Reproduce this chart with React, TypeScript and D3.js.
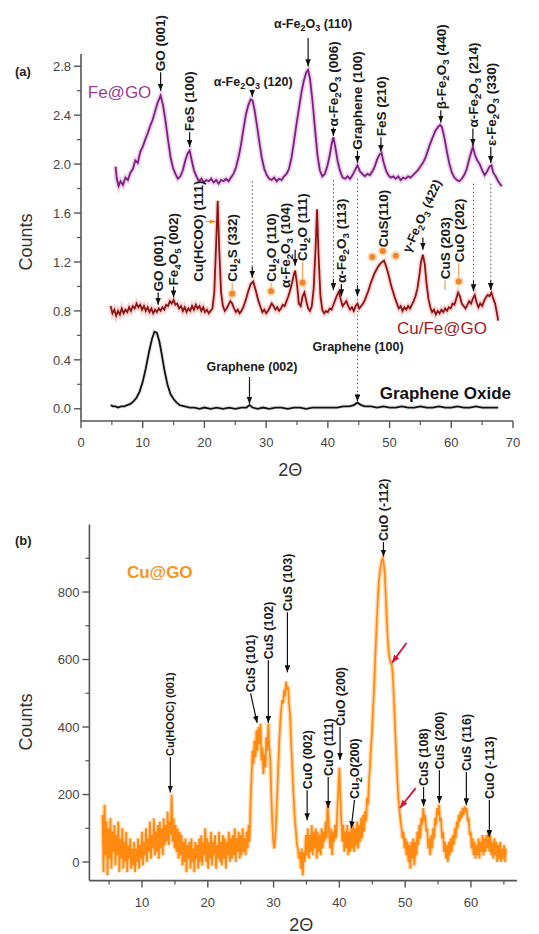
import React from 'react';
import * as d3 from 'd3';

// (a) Fe@GO, Cu/Fe@GO and graphene oxide patterns, [2theta, counts]
const feGO: [number, number][] = [
    [5.6, 1.98], [5.8, 1.88], [6.1, 1.82], [6.4, 1.86], [6.8, 1.83], [7.2, 1.89], [7.6, 1.87], [8.0, 1.93],
    [8.4, 1.96], [8.8, 2.03], [9.2, 2.01], [9.6, 2.10], [10.0, 2.14], [10.4, 2.20], [10.8, 2.25], [11.2, 2.31],
    [11.6, 2.36], [12.0, 2.43], [12.4, 2.50], [12.9, 2.56], [13.3, 2.48], [13.7, 2.35], [14.1, 2.20], [14.5, 2.06],
    [14.9, 1.97], [15.3, 1.92], [15.7, 1.88], [16.1, 1.90], [16.5, 1.95], [16.9, 2.03], [17.3, 2.09], [17.6, 2.11],
    [17.9, 2.04], [18.3, 1.95], [18.7, 1.90], [19.1, 1.86], [19.5, 1.88], [19.9, 1.85], [20.3, 1.87], [20.7, 1.86],
    [21.1, 1.88], [21.5, 1.85], [21.9, 1.87], [22.3, 1.84], [22.7, 1.87], [23.1, 1.86], [23.5, 1.88], [23.9, 1.86],
    [24.3, 1.89], [24.7, 1.92], [25.1, 1.97], [25.5, 2.05], [25.9, 2.15], [26.3, 2.28], [26.7, 2.40], [27.1, 2.48],
    [27.5, 2.53], [27.8, 2.52], [28.1, 2.45], [28.5, 2.32], [28.9, 2.18], [29.3, 2.05], [29.7, 1.96], [30.1, 1.91],
    [30.5, 1.88], [30.9, 1.87], [31.3, 1.89], [31.7, 1.86], [32.1, 1.88], [32.5, 1.87], [32.9, 1.90], [33.3, 1.92],
    [33.7, 1.96], [34.1, 2.05], [34.5, 2.18], [34.9, 2.32], [35.3, 2.45], [35.7, 2.58], [36.1, 2.68], [36.5, 2.75],
    [36.8, 2.77], [37.1, 2.70], [37.5, 2.52], [37.9, 2.30], [38.3, 2.08], [38.7, 1.95], [39.1, 1.90], [39.5, 1.92],
    [39.9, 1.98], [40.3, 2.07], [40.6, 2.16], [40.9, 2.22], [41.2, 2.14], [41.6, 2.02], [42.0, 1.94], [42.4, 1.89],
    [42.8, 1.88], [43.2, 1.90], [43.6, 1.88], [44.0, 1.91], [44.4, 1.95], [44.8, 1.99], [45.2, 1.94], [45.6, 1.92],
    [46.0, 1.90], [46.4, 1.92], [46.8, 1.91], [47.2, 1.94], [47.6, 1.98], [48.0, 2.04], [48.4, 2.08], [48.7, 2.09],
    [49.0, 2.02], [49.4, 1.95], [49.8, 1.91], [50.2, 1.89], [50.6, 1.90], [51.0, 1.88], [51.4, 1.90], [51.8, 1.87],
    [52.2, 1.89], [52.6, 1.88], [53.0, 1.90], [53.4, 1.89], [53.8, 1.91], [54.2, 1.93], [54.6, 1.95], [55.0, 1.98],
    [55.4, 2.01], [55.8, 2.05], [56.2, 2.11], [56.6, 2.17], [57.0, 2.22], [57.4, 2.27], [57.8, 2.30], [58.2, 2.32],
    [58.5, 2.30], [58.9, 2.21], [59.3, 2.10], [59.7, 2.00], [60.1, 1.93], [60.5, 1.89], [60.9, 1.87], [61.3, 1.86],
    [61.7, 1.88], [62.1, 1.91], [62.5, 1.96], [62.9, 2.04], [63.3, 2.11], [63.5, 2.14], [63.8, 2.08], [64.2, 2.03],
    [64.6, 2.00], [65.0, 1.95], [65.4, 1.91], [65.8, 1.94], [66.2, 1.98], [66.5, 1.99], [66.8, 1.93], [67.2, 1.90],
    [67.6, 1.86], [68.0, 1.83], [68.2, 1.82],
];

const cuFeGO: [number, number][] = [
    [4.8, 0.84], [5.1, 0.78], [5.4, 0.81], [5.7, 0.76], [6.0, 0.80], [6.3, 0.77], [6.6, 0.82], [6.9, 0.78],
    [7.2, 0.81], [7.5, 0.79], [7.8, 0.83], [8.1, 0.80], [8.4, 0.84], [8.7, 0.82], [9.0, 0.86], [9.3, 0.83],
    [9.6, 0.85], [9.9, 0.81], [10.2, 0.84], [10.5, 0.80], [10.8, 0.83], [11.1, 0.79], [11.4, 0.82], [11.7, 0.78],
    [12.0, 0.81], [12.3, 0.79], [12.6, 0.82], [12.9, 0.80], [13.2, 0.83], [13.5, 0.81], [13.8, 0.85], [14.1, 0.84],
    [14.4, 0.88], [14.7, 0.86], [15.0, 0.89], [15.3, 0.85], [15.6, 0.86], [15.9, 0.82], [16.2, 0.84], [16.5, 0.80],
    [16.8, 0.83], [17.1, 0.79], [17.4, 0.82], [17.7, 0.80], [18.0, 0.84], [18.3, 0.81], [18.6, 0.85], [18.9, 0.82],
    [19.2, 0.84], [19.5, 0.80], [19.8, 0.83], [20.1, 0.79], [20.4, 0.81], [20.7, 0.78], [21.0, 0.80], [21.3, 0.82],
    [21.6, 0.95], [21.9, 1.35], [22.15, 1.70], [22.4, 1.30], [22.7, 0.95], [23.0, 0.84], [23.3, 0.80], [23.6, 0.82],
    [23.9, 0.85], [24.2, 0.88], [24.5, 0.86], [24.8, 0.82], [25.1, 0.79], [25.4, 0.81], [25.7, 0.78], [26.0, 0.80],
    [26.3, 0.83], [26.7, 0.89], [27.1, 0.96], [27.5, 1.02], [27.9, 1.04], [28.3, 0.97], [28.7, 0.89], [29.1, 0.83],
    [29.4, 0.79], [29.7, 0.81], [30.0, 0.78], [30.3, 0.80], [30.6, 0.83], [30.9, 0.86], [31.2, 0.84], [31.5, 0.81],
    [31.8, 0.83], [32.1, 0.80], [32.4, 0.82], [32.7, 0.85], [33.0, 0.84], [33.3, 0.88], [33.6, 0.92], [33.9, 0.97],
    [34.2, 1.03], [34.5, 1.10], [34.7, 1.13], [35.0, 1.02], [35.3, 0.86], [35.6, 0.84], [35.9, 0.92], [36.2, 0.95],
    [36.5, 0.88], [36.8, 0.82], [37.1, 0.80], [37.4, 0.84], [37.7, 0.98], [38.0, 1.30], [38.25, 1.63], [38.5, 1.25],
    [38.8, 0.92], [39.1, 0.81], [39.4, 0.78], [39.7, 0.80], [40.0, 0.79], [40.3, 0.82], [40.6, 0.81], [40.9, 0.85],
    [41.2, 0.89], [41.5, 0.93], [41.8, 0.96], [42.1, 0.89], [42.4, 0.84], [42.7, 0.86], [43.0, 0.88], [43.3, 0.84],
    [43.6, 0.81], [43.9, 0.83], [44.2, 0.80], [44.5, 0.84], [44.8, 0.86], [45.1, 0.82], [45.4, 0.84], [45.7, 0.86],
    [46.0, 0.89], [46.3, 0.93], [46.6, 0.97], [46.9, 1.02], [47.2, 1.06], [47.5, 1.10], [47.8, 1.13], [48.1, 1.16],
    [48.4, 1.18], [48.8, 1.20], [49.1, 1.21], [49.4, 1.17], [49.7, 1.12], [50.0, 1.06], [50.3, 1.00], [50.6, 0.95],
    [50.9, 0.90], [51.2, 0.86], [51.5, 0.82], [51.8, 0.84], [52.1, 0.80], [52.4, 0.83], [52.7, 0.81], [53.0, 0.84],
    [53.3, 0.82], [53.6, 0.85], [53.9, 0.88], [54.2, 0.92], [54.5, 0.98], [54.8, 1.08], [55.1, 1.20], [55.4, 1.26],
    [55.7, 1.18], [56.0, 1.02], [56.3, 0.90], [56.6, 0.83], [56.9, 0.79], [57.2, 0.81], [57.5, 0.77], [57.8, 0.80],
    [58.1, 0.78], [58.4, 0.81], [58.7, 0.79], [59.0, 0.82], [59.3, 0.80], [59.6, 0.83], [59.9, 0.82], [60.2, 0.86],
    [60.5, 0.85], [60.8, 0.90], [61.1, 0.95], [61.4, 0.92], [61.7, 0.86], [62.0, 0.84], [62.3, 0.82], [62.6, 0.85],
    [62.9, 0.88], [63.2, 0.86], [63.5, 0.90], [63.8, 0.93], [64.1, 0.87], [64.4, 0.83], [64.7, 0.86], [65.0, 0.84],
    [65.3, 0.88], [65.6, 0.91], [65.9, 0.93], [66.2, 0.92], [66.5, 0.95], [66.8, 0.90], [67.1, 0.86], [67.4, 0.78],
    [67.6, 0.72],
];

const grapheneOxide: [number, number][] = [
    [4.8, 0.03], [5.2, 0.02], [5.6, 0.02], [6.0, 0.01], [6.5, 0.02], [7.0, 0.02], [7.5, 0.03], [8.0, 0.04],
    [8.5, 0.06], [9.0, 0.09], [9.5, 0.14], [10.0, 0.22], [10.5, 0.33], [11.0, 0.46], [11.5, 0.57], [11.9, 0.63],
    [12.3, 0.62], [12.7, 0.55], [13.1, 0.44], [13.5, 0.32], [14.0, 0.20], [14.5, 0.12], [15.0, 0.08], [15.5, 0.05],
    [16.0, 0.03], [16.8, 0.02], [17.6, 0.01], [18.4, 0.01], [19.2, 0.00], [20.0, 0.01], [21.0, 0.00], [22.0, 0.01],
    [23.0, 0.00], [24.0, 0.01], [25.0, 0.00], [26.0, 0.01], [26.8, 0.01], [27.3, 0.03], [27.8, 0.01], [28.6, 0.00],
    [29.5, 0.01], [30.5, 0.00], [31.5, 0.01], [32.5, 0.01], [33.5, 0.00], [34.5, 0.01], [35.5, 0.01], [36.5, 0.00],
    [37.5, 0.01], [38.5, 0.01], [39.5, 0.01], [40.5, 0.01], [41.5, 0.01], [42.5, 0.02], [43.5, 0.02], [44.2, 0.03],
    [44.8, 0.05], [45.4, 0.03], [46.0, 0.02], [47.0, 0.02], [48.0, 0.01], [49.0, 0.02], [50.0, 0.01], [51.0, 0.01],
    [52.0, 0.02], [53.0, 0.01], [54.0, 0.01], [55.0, 0.02], [56.0, 0.01], [57.0, 0.01], [58.0, 0.02], [59.0, 0.01],
    [60.0, 0.01], [61.0, 0.02], [62.0, 0.01], [63.0, 0.01], [64.0, 0.02], [65.0, 0.01], [66.0, 0.01], [67.0, 0.01],
    [67.6, 0.01],
];

// (b) Cu@GO pattern
const cuGO: [number, number][] = [
    [4.0, 140], [4.15, -30], [4.3, 170], [4.45, 20], [4.6, 120], [4.75, -40], [4.9, 100], [5.05, 10],
    [5.2, 130], [5.35, -20], [5.5, 90], [5.65, 30], [5.8, 110], [5.95, -10], [6.1, 80], [6.25, 20],
    [6.4, 120], [6.55, -30], [6.7, 70], [6.85, 10], [7.0, 100], [7.15, -20], [7.3, 60], [7.45, 0],
    [7.6, 90], [7.75, -30], [7.9, 50], [8.05, 10], [8.2, 70], [8.35, -20], [8.5, 40], [8.65, -10],
    [8.8, 60], [8.95, -30], [9.1, 40], [9.25, 0], [9.4, 70], [9.55, -20], [9.7, 50], [9.85, 10],
    [10.0, 90], [10.15, -10], [10.3, 60], [10.45, 20], [10.6, 100], [10.75, 0], [10.9, 70], [11.05, 30],
    [11.2, 120], [11.35, 10], [11.5, 80], [11.65, 40], [11.8, 130], [11.95, 20], [12.1, 90], [12.25, 30],
    [12.4, 110], [12.55, 10], [12.7, 120], [12.85, 40], [13.0, 100], [13.15, 20], [13.3, 130], [13.45, 50],
    [13.6, 110], [13.75, 60], [13.9, 150], [14.05, 50], [14.2, 120], [14.35, 80], [14.5, 200], [14.65, 60],
    [14.8, 130], [14.95, 40], [15.1, 110], [15.25, 30], [15.4, 100], [15.55, 10], [15.7, 90], [15.85, 20],
    [16.0, 80], [16.15, -10], [16.3, 60], [16.45, 0], [16.6, 70], [16.75, -30], [16.9, 50], [17.05, 10],
    [17.2, 60], [17.35, -20], [17.5, 70], [17.65, 0], [17.8, 40], [17.95, -30], [18.1, 60], [18.25, 10],
    [18.4, 50], [18.55, -20], [18.7, 70], [18.85, 0], [19.0, 80], [19.15, -10], [19.3, 60], [19.45, 20],
    [19.6, 100], [19.75, 0], [19.9, 70], [20.05, -20], [20.2, 60], [20.35, 10], [20.5, 90], [20.65, -10],
    [20.8, 60], [20.95, 20], [21.1, 80], [21.25, -20], [21.4, 50], [21.55, 10], [21.7, 90], [21.85, 0],
    [22.0, 60], [22.15, -10], [22.3, 80], [22.45, 10], [22.6, 70], [22.75, -20], [22.9, 60], [23.05, 20],
    [23.2, 90], [23.35, 0], [23.5, 70], [23.65, 10], [23.8, 80], [23.95, 20], [24.1, 100], [24.25, 0],
    [24.4, 70], [24.55, 30], [24.7, 90], [24.85, 10], [25.0, 80], [25.15, 20], [25.3, 100], [25.45, 30],
    [25.6, 70], [25.75, 20], [25.9, 90], [26.05, 40], [26.2, 110], [26.35, 60], [26.5, 180], [26.65, 250],
    [26.8, 330], [26.95, 290], [27.1, 360], [27.25, 310], [27.4, 390], [27.55, 330], [27.7, 400], [27.85, 350],
    [28.0, 410], [28.15, 300], [28.3, 340], [28.45, 260], [28.6, 320], [28.75, 280], [28.9, 370], [29.05, 330],
    [29.2, 410], [29.35, 340], [29.5, 300], [29.65, 200], [29.8, 120], [29.95, 60], [30.1, 40], [30.25, 70],
    [30.4, 130], [30.55, 200], [30.7, 280], [30.85, 350], [31.0, 410], [31.15, 450], [31.3, 480], [31.45, 470],
    [31.6, 510], [31.75, 490], [31.9, 535], [32.05, 510], [32.2, 520], [32.35, 470], [32.5, 440], [32.65, 360],
    [32.8, 300], [32.95, 230], [33.1, 170], [33.25, 120], [33.4, 90], [33.55, 50], [33.7, 40], [33.85, 10],
    [34.0, 30], [34.15, -20], [34.3, 40], [34.45, -40], [34.6, 30], [34.75, 0], [34.9, 80], [35.05, 20],
    [35.2, 100], [35.35, 10], [35.5, 80], [35.65, 30], [35.8, 110], [35.95, 20], [36.1, 90], [36.25, 40],
    [36.4, 100], [36.55, 10], [36.7, 90], [36.85, 30], [37.0, 80], [37.15, 20], [37.3, 100], [37.45, 40],
    [37.6, 90], [37.75, 60], [37.9, 120], [38.05, 70], [38.2, 180], [38.3, 140], [38.45, 80], [38.6, 40],
    [38.75, 100], [38.9, 20], [39.05, 90], [39.2, 60], [39.35, 110], [39.5, 70], [39.7, 160], [39.85, 220],
    [40.0, 280], [40.15, 190], [40.3, 120], [40.45, 60], [40.6, 110], [40.75, 30], [40.9, 90], [41.05, 40],
    [41.2, 110], [41.35, 20], [41.5, 90], [41.65, 30], [41.8, 100], [41.95, 40], [42.1, 110], [42.25, 30],
    [42.4, 100], [42.55, 50], [42.7, 120], [42.85, 40], [43.0, 110], [43.15, 60], [43.3, 130], [43.45, 70],
    [43.6, 140], [43.75, 90], [43.9, 150], [44.05, 120], [44.2, 190], [44.35, 170], [44.5, 240], [44.65, 280],
    [44.8, 340], [44.95, 380], [45.1, 450], [45.25, 500], [45.4, 580], [45.55, 650], [45.7, 720], [45.85, 780],
    [46.0, 830], [46.15, 860], [46.3, 880], [46.45, 895], [46.6, 900], [46.75, 885], [46.9, 850], [47.05, 790],
    [47.2, 720], [47.35, 660], [47.5, 620], [47.65, 600], [47.8, 590], [47.95, 585], [48.1, 560], [48.25, 500],
    [48.4, 430], [48.55, 360], [48.7, 290], [48.85, 230], [49.0, 180], [49.15, 150], [49.3, 120], [49.45, 100],
    [49.6, 70], [49.75, 90], [49.9, 40], [50.05, 70], [50.2, 20], [50.35, 60], [50.5, 0], [50.65, 50],
    [50.8, -20], [50.95, 60], [51.1, 10], [51.25, 70], [51.4, -10], [51.55, 60], [51.7, 20], [51.85, 90],
    [52.0, 50], [52.15, 110], [52.3, 70], [52.45, 130], [52.6, 110], [52.75, 160], [52.9, 120], [53.05, 140],
    [53.2, 90], [53.35, 100], [53.5, 40], [53.65, 70], [53.8, 20], [53.95, 80], [54.1, 40], [54.25, 100],
    [54.4, 70], [54.55, 130], [54.7, 110], [54.85, 160], [55.0, 140], [55.15, 170], [55.3, 120], [55.45, 130],
    [55.6, 70], [55.75, 90], [55.9, 30], [56.05, 60], [56.2, 10], [56.35, 50], [56.5, 0], [56.65, 60],
    [56.8, 20], [56.95, 70], [57.1, 30], [57.25, 80], [57.4, 50], [57.55, 100], [57.7, 70], [57.85, 120],
    [58.0, 100], [58.15, 140], [58.3, 120], [58.45, 150], [58.6, 130], [58.75, 160], [58.9, 140], [59.05, 165],
    [59.2, 150], [59.35, 160], [59.5, 120], [59.65, 130], [59.8, 80], [59.95, 90], [60.1, 40], [60.25, 70],
    [60.4, 20], [60.55, 60], [60.7, 10], [60.85, 50], [61.0, 20], [61.15, 70], [61.3, 10], [61.45, 60],
    [61.6, 30], [61.75, 80], [61.9, 20], [62.05, 70], [62.2, 30], [62.35, 80], [62.5, 40], [62.65, 90],
    [62.8, 30], [62.95, 80], [63.1, 20], [63.25, 60], [63.4, 10], [63.55, 70], [63.7, 20], [63.85, 60],
    [64.0, 0], [64.15, 50], [64.3, 10], [64.45, 60], [64.6, 0], [64.75, 40], [64.9, 10], [65.05, 50],
    [65.2, 0], [65.3, 40],
];

// peak labels: text, text x, text bottom, arrow x, arrow tip
const feLabels = [
    { text: 'GO (001)', tx: 12.9, from: 2.75, x: 12.9, to: 2.60 },
    { text: 'FeS (100)', tx: 17.6, from: 2.26, x: 17.6, to: 2.14 },
    { text: 'α-Fe_2O_3 (006)', tx: 40.9, from: 2.30, x: 40.9, to: 2.23 },
    { text: 'Graphene (100)', tx: 44.8, from: 2.11, x: 44.8, to: 2.01 },
    { text: 'FeS (210)', tx: 48.6, from: 2.22, x: 48.6, to: 2.10 },
    { text: 'β-Fe_2O_3 (440)', tx: 58.3, from: 2.44, x: 58.3, to: 2.34 },
    { text: 'α-Fe_2O_3 (214)', tx: 63.5, from: 2.29, x: 63.5, to: 2.15 },
    { text: 'ε-Fe_2O_3 (330)', tx: 66.4, from: 2.14, x: 66.4, to: 2.01 },
];

const feHLabels = [
    { text: 'α-Fe_2O_3 (120)', tx: 27.9, ty: 2.64, x: 27.75, from: 2.61, to: 2.55 },
    { text: 'α-Fe_2O_3 (110)', tx: 37.6, ty: 3.11, x: 36.8, from: 3.03, to: 2.80 },
];

const cuFeLabels = [
    { text: 'GO (001)', tx: 12.5, from: 0.95, x: 12.5, to: 0.85, kind: 'fe' },
    { text: 'Fe_4O_5 (002)', tx: 15.0, from: 1.00, x: 15.0, to: 0.91, kind: 'fe' },
    { text: 'Cu(HCOO) (111)', tx: 18.9, from: 1.03, x: 18.9, to: 1.03, kind: 'none' },
    { text: 'Cu_2S (332)', tx: 24.5, from: 1.03, x: 24.5, to: 0.96, kind: 'cu' },
    { text: 'Cu_2O (110)', tx: 30.8, from: 1.03, x: 30.8, to: 0.98, kind: 'cu' },
    { text: 'α-Fe_2O_3 (104)', tx: 33.1, from: 0.98, x: 33.1, to: 0.98, kind: 'none' },
    { text: 'Cu_2O (111)', tx: 35.9, from: 1.20, x: 35.9, to: 1.05, kind: 'cu' },
    { text: 'α-Fe_2O_3 (113)', tx: 42.2, from: 1.02, x: 42.2, to: 0.92, kind: 'fe' },
    { text: 'CuS(110)', tx: 49.0, from: 1.31, x: 49.0, to: 1.31, kind: 'none' },
    { text: 'CuS (203)', tx: 59.0, from: 1.05, x: 59.0, to: 0.97, kind: 'cu' },
    { text: 'CuO (202)', tx: 61.2, from: 1.19, x: 61.2, to: 1.06, kind: 'cu' },
];

const cuFeArrows = [
    { x: 27.75, from: 1.16, to: 1.07 },
    { x: 34.7, from: 1.30, to: 1.17 },
    { x: 40.9, from: 1.06, to: 0.97 },
    { x: 44.8, from: 1.01, to: 0.92 },
    { x: 55.4, from: 1.40, to: 1.30 },
    { x: 63.6, from: 1.05, to: 0.96 },
    { x: 66.4, from: 1.05, to: 0.97 },
];

const cuFeDots = [
    [24.5, 0.94], [30.8, 0.96], [35.9, 1.03], [47.2, 1.24], [48.9, 1.29], [51.0, 1.25], [61.2, 1.04],
];

const dottedLines = [
    { x: 27.75, from: 1.86, to: 1.16 },
    { x: 40.9, from: 1.87, to: 1.06 },
    { x: 44.8, from: 1.88, to: 0.12 },
    { x: 63.6, from: 1.84, to: 1.05 },
    { x: 66.4, from: 1.84, to: 1.05 },
];

const goHLabels = [
    { text: 'Graphene (002)', tx: 27.7, ty: 0.31, x: 27.3, from: 0.26, to: 0.04 },
    { text: 'Graphene (100)', tx: 44.9, ty: 0.47, x: 44.8, from: 0.12, to: 0.06 },
];

const cuLabels = [
    { text: 'Cu(HOOC) (001)', tx: 14.3, from: 311, x: 14.3, to: 206, size: 11 },
    { text: 'CuS (101)', tx: 26.5, from: 500, x: 27.5, to: 412 },
    { text: 'CuS (102)', tx: 29.2, from: 598, x: 29.2, to: 412 },
    { text: 'CuS (103)', tx: 32.1, from: 740, x: 32.1, to: 562 },
    { text: 'CuO (002)', tx: 35.1, from: 213, x: 35.1, to: 124 },
    { text: 'CuO (111)', tx: 38.3, from: 252, x: 38.3, to: 160 },
    { text: 'CuO (200)', tx: 40.1, from: 400, x: 40.1, to: 302 },
    { text: 'Cu_2O(200)', tx: 42.3, from: 184, x: 41.8, to: 100 },
    { text: 'CuO (-112)', tx: 46.7, from: 948, x: 46.7, to: 905 },
    { text: 'CuS (108)', tx: 52.8, from: 222, x: 52.8, to: 165 },
    { text: 'CuS (200)', tx: 55.2, from: 272, x: 55.2, to: 175 },
    { text: 'CuS (116)', tx: 59.3, from: 267, x: 59.3, to: 168 },
    { text: 'CuO (-113)', tx: 62.8, from: 184, x: 62.8, to: 74 },
];

const redArrows = [
    { x1: 50.2, y1: 649, x2: 48.0, y2: 590 },
    { x1: 51.6, y1: 219, x2: 49.2, y2: 160 },
];

const topXTicks = [0, 10, 20, 30, 40, 50, 60, 70];
const topXMinor = [5, 15, 25, 35, 45, 55, 65];
const topYTicks = [0, 0.4, 0.8, 1.2, 1.6, 2.0, 2.4, 2.8];
const topYMinor = [0.2, 0.6, 1.0, 1.4, 1.8, 2.2, 2.6];
const botXTicks = [10, 20, 30, 40, 50, 60];
const botXMinor = [5, 15, 25, 35, 45, 55, 65];
const botYTicks = [0, 200, 400, 600, 800];
const botYMinor = [100, 300, 500, 700, 900];

const FONT = '"Liberation Sans", Arial, sans-serif';

const topX = d3.scaleLinear().domain([0, 70]).range([81, 513]);
const topY = d3.scaleLinear().domain([-0.1, 2.9]).range([421, 54]);
const botX = d3.scaleLinear().domain([2, 67]).range([89.4, 517]);
const botY = d3.scaleLinear().domain([-55, 1000]).range([880.6, 524.5]);

const topLine = d3.line<[number, number]>().x(d => topX(d[0])).y(d => topY(d[1]));
const botLine = d3.line<[number, number]>().x(d => botX(d[0])).y(d => botY(d[1]));

const Chem = ({ text }: { text: string }) => {
    const parts = text.split(/(_\d)/).filter(p => p !== '');
    let down = false;
    return (
        <>
            {parts.map((p, i) => {
                if (p[0] === '_') {
                    down = true;
                    return <tspan key={i} dy={3} fontSize="72%">{p.slice(1)}</tspan>;
                }
                const dy = down ? -3 : undefined;
                down = false;
                return <tspan key={i} dy={dy}>{p}</tspan>;
            })}
        </>
    );
};

const VText = ({ x, y, text, size = 13.5, fill = '#1a1a1a' }) => (
    <text
        transform={`translate(${x},${y}) rotate(-90)`}
        dy="0.36em"
        fontSize={size}
        fontWeight="bold"
        fill={fill}>
        <Chem text={text} />
    </text>
);

const Arrow = ({ x1, y1, x2, y2, color = '#111', marker = 'ahBlack', w = 1.2 }) => (
    <line x1={x1} y1={y1} x2={x2} y2={y2} stroke={color} strokeWidth={w} markerEnd={`url(#${marker})`} />
);

const Axes = ({ sx, sy, xTicks, xMinor, yTicks, yMinor, fmt, xTitle, yTitleY, xTitleY }) => {
    const [x0, x1] = sx.range();
    const [yb, yt] = sy.range();
    return (
        <g fill="#444" fontSize={13}>
            <line x1={x0} y1={yb} x2={x0} y2={yt} stroke="#555" strokeWidth={1.6} />
            <line x1={x0} y1={yb} x2={x1} y2={yb} stroke="#555" strokeWidth={1.6} />
            {yTicks.map(t => (
                <g key={'y' + t}>
                    <line x1={x0 - 7} x2={x0} y1={sy(t)} y2={sy(t)} stroke="#555" strokeWidth={1.4} />
                    <text x={x0 - 10} y={sy(t)} dy="0.36em" textAnchor="end">{fmt(t)}</text>
                </g>
            ))}
            {yMinor.map(t => (
                <line key={'ym' + t} x1={x0 - 4} x2={x0} y1={sy(t)} y2={sy(t)} stroke="#555" strokeWidth={1.2} />
            ))}
            {xTicks.map(t => (
                <g key={'x' + t}>
                    <line x1={sx(t)} x2={sx(t)} y1={yb} y2={yb + 7} stroke="#555" strokeWidth={1.4} />
                    <text x={sx(t)} y={yb + 26} textAnchor="middle">{t}</text>
                </g>
            ))}
            {xMinor.map(t => (
                <line key={'xm' + t} x1={sx(t)} x2={sx(t)} y1={yb} y2={yb + 4} stroke="#555" strokeWidth={1.2} />
            ))}
            <text x={sx(xTitle)} y={xTitleY} textAnchor="middle" fontSize={18} fill="#333">2Θ</text>
            <text transform={`translate(32,${yTitleY}) rotate(-90)`} textAnchor="middle" fontSize={18} fill="#333">Counts</text>
        </g>
    );
};

const App = () => {
    return (
        <svg
            width={539}
            height={934}
            style={{ position: 'absolute', left: 0, top: 0, background: '#fff' }}
            fontFamily={FONT}>
            <defs>
                <marker id="ahBlack" viewBox="0 0 10 8" refX="10" refY="4" markerWidth="7" markerHeight="5.6" orient="auto" markerUnits="userSpaceOnUse">
                    <path d="M0,0 L10,4 L0,8 z" fill="#111" />
                </marker>
                <marker id="ahOrange" viewBox="0 0 10 8" refX="10" refY="4" markerWidth="6" markerHeight="5" orient="auto" markerUnits="userSpaceOnUse">
                    <path d="M0,0 L10,4 L0,8 z" fill="#f28c28" />
                </marker>
                <marker id="ahRed" viewBox="0 0 10 8" refX="10" refY="4" markerWidth="8" markerHeight="6.4" orient="auto" markerUnits="userSpaceOnUse">
                    <path d="M0,0 L10,4 L0,8 z" fill="#d4143c" />
                </marker>
            </defs>

            {/* panel (a) */}
            <text x={15} y={76} fontSize={13} fontWeight="bold" fill="#222">(a)</text>
            <Axes
                sx={topX} sy={topY}
                xTicks={topXTicks} xMinor={topXMinor}
                yTicks={topYTicks} yMinor={topYMinor}
                fmt={d3.format('.1f')}
                xTitle={33.9} xTitleY={476} yTitleY={242} />

            {dottedLines.map((d, i) => (
                <line key={i} x1={topX(d.x)} x2={topX(d.x)} y1={topY(d.from)} y2={topY(d.to)}
                    stroke="#555" strokeWidth={1} strokeDasharray="1.5 2.5" />
            ))}

            <path d={topLine(feGO)} fill="none" stroke="#d7a6d7" strokeWidth={5} strokeOpacity={0.5} />
            <path d={topLine(feGO)} fill="none" stroke="#7e1f80" strokeWidth={1.8} />
            <path d={topLine(cuFeGO)} fill="none" stroke="#f6b3b3" strokeWidth={5} strokeOpacity={0.55} />
            <path d={topLine(cuFeGO)} fill="none" stroke="#8e1414" strokeWidth={1.8} />
            <path d={topLine(grapheneOxide)} fill="none" stroke="#bbb" strokeWidth={4} strokeOpacity={0.4} />
            <path d={topLine(grapheneOxide)} fill="none" stroke="#111" strokeWidth={1.8} />

            <text x={topX(1.1)} y={topY(2.54)} fontSize={17} fill="#9a3a9e">Fe@GO</text>
            <text x={topX(51.2)} y={topY(0.61)} fontSize={17} fill="#a01c26">Cu/Fe@GO</text>
            <text x={topX(48.4)} y={topY(0.08)} fontSize={17} fontWeight="bold" fill="#111">Graphene Oxide</text>

            {feLabels.map((d, i) => (
                <g key={i}>
                    <VText x={topX(d.tx)} y={topY(d.from) - 1} text={d.text} />
                    <Arrow x1={topX(d.tx)} y1={topY(d.from)} x2={topX(d.x)} y2={topY(d.to)} />
                </g>
            ))}
            {feHLabels.concat(goHLabels).map((d, i) => (
                <g key={i}>
                    <text x={topX(d.tx)} y={topY(d.ty)} textAnchor="middle" fontSize={12.5} fontWeight="bold" fill="#1a1a1a">
                        <Chem text={d.text} />
                    </text>
                    <Arrow x1={topX(d.x)} y1={topY(d.from)} x2={topX(d.x)} y2={topY(d.to)} />
                </g>
            ))}

            {cuFeLabels.map((d, i) => (
                <g key={i}>
                    <VText x={topX(d.tx)} y={topY(d.from) - 1} text={d.text} />
                    {d.kind === 'fe' && (
                        <Arrow x1={topX(d.tx)} y1={topY(d.from)} x2={topX(d.x)} y2={topY(d.to)} />
                    )}
                    {d.kind === 'cu' && (
                        <line x1={topX(d.tx)} x2={topX(d.x)} y1={topY(d.from)} y2={topY(d.to)} stroke="#f5a25a" strokeWidth={1.2} />
                    )}
                </g>
            ))}
            {cuFeArrows.map((d, i) => (
                <Arrow key={i} x1={topX(d.x)} y1={topY(d.from)} x2={topX(d.x)} y2={topY(d.to)} />
            ))}
            <Arrow x1={topX(20.2)} y1={topY(1.53)} x2={topX(21.8)} y2={topY(1.53)} color="#f28c28" marker="ahOrange" />
            {cuFeDots.map((d, i) => (
                <g key={i}>
                    <circle cx={topX(d[0])} cy={topY(d[1])} r={5} fill="#fbc98f" opacity={0.6} />
                    <circle cx={topX(d[0])} cy={topY(d[1])} r={3} fill="#f0862a" />
                </g>
            ))}
            <text
                transform={`translate(${topX(53.3)},${topY(1.27)}) rotate(-66)`}
                fontSize={12.5} fontWeight="bold" fill="#1a1a1a">
                <Chem text="γ-Fe_2O_3 (422)" />
            </text>

            {/* panel (b) */}
            <text x={15} y={545} fontSize={13} fontWeight="bold" fill="#222">(b)</text>
            <Axes
                sx={botX} sy={botY}
                xTicks={botXTicks} xMinor={botXMinor}
                yTicks={botYTicks} yMinor={botYMinor}
                fmt={d3.format('d')}
                xTitle={34.2} xTitleY={931} yTitleY={722} />

            <path d={botLine(cuGO)} fill="none" stroke="#ffc88a" strokeWidth={4.5} strokeOpacity={0.7} />
            <path d={botLine(cuGO)} fill="none" stroke="#ff8a12" strokeWidth={1.7} />

            <text x={botX(7.7)} y={botY(841)} fontSize={17} fontWeight="bold" fill="#f7931e">Cu@GO</text>

            {cuLabels.map((d, i) => (
                <g key={i}>
                    <VText x={botX(d.tx)} y={botY(d.from) - 1} text={d.text} size={d.size || 12.5} />
                    <Arrow x1={botX(d.tx)} y1={botY(d.from)} x2={botX(d.x)} y2={botY(d.to)} />
                </g>
            ))}
            {redArrows.map((d, i) => (
                <Arrow key={i} x1={botX(d.x1)} y1={botY(d.y1)} x2={botX(d.x2)} y2={botY(d.y2)}
                    color="#d4143c" marker="ahRed" w={1.8} />
            ))}
        </svg>
    );
};

export default App;
